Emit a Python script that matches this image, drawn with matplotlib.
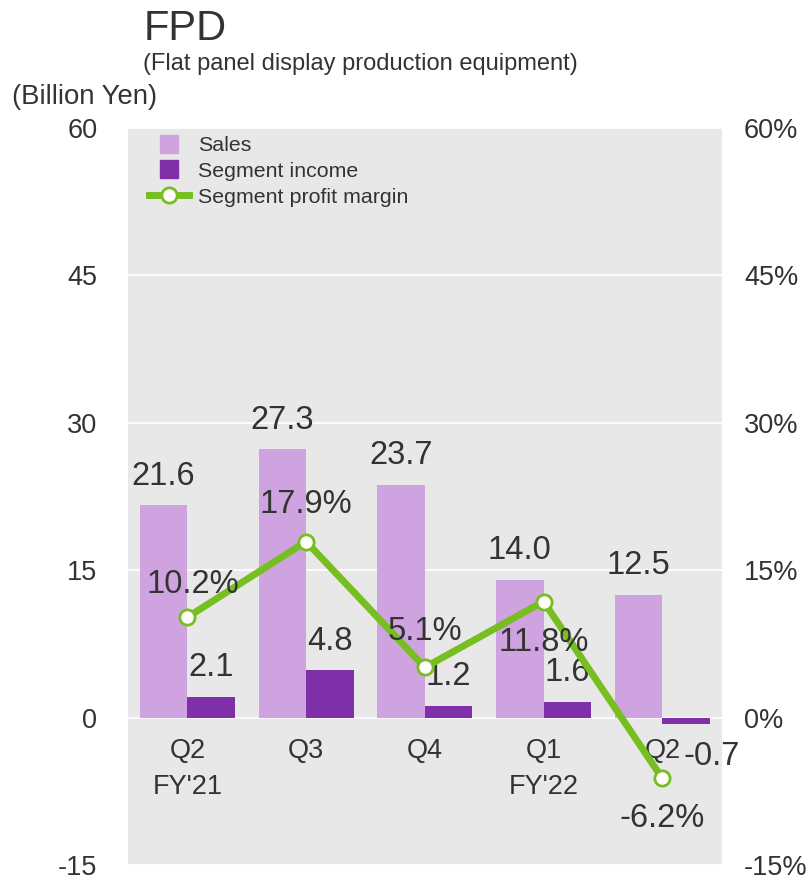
import matplotlib.pyplot as plt
from matplotlib.lines import Line2D
import numpy as np

plt.rcParams['font.family'] = ['Liberation Sans', 'DejaVu Sans']
plt.rcParams['axes.unicode_minus'] = False

quarters = ["Q2\nFY'21", "Q3", "Q4", "Q1\nFY'22", "Q2"]
sales = [21.6, 27.3, 23.7, 14.0, 12.5]
income = [2.1, 4.8, 1.2, 1.6, -0.7]
margin = [10.2, 17.9, 5.1, 11.8, -6.2]

sales_color = "#cfa3e0"
income_color = "#7f30a8"
line_color = "#77be20"
text_color = "#333333"

fig = plt.figure(figsize=(8.1, 8.83), dpi=100)
ax = fig.add_axes([0.158, 0.0204, 0.733, 0.835])
ax.set_facecolor("#e8e8e8")
x = np.arange(len(quarters))
w = 0.4

ax.bar(x - w / 2, sales, w, color=sales_color, zorder=2)
ax.bar(x + w / 2, income, w, color=income_color, zorder=2)
ax.set_xlim(-0.5, 4.5)
ax.set_ylim(-15, 60)
ax.set_yticks([-15, 0, 15, 30, 45, 60])
ax.grid(axis="y", color="white", linewidth=1.2, zorder=1)
ax.set_axisbelow(True)
for s in ax.spines.values():
    s.set_visible(False)
ax.tick_params(axis="y", length=0, pad=22, labelsize=19.5, labelcolor=text_color)
ax.set_xticks([])

# category labels below zero line
for i, q in enumerate(quarters):
    ax.text(i, -2.1, q, ha="center", va="top", fontsize=19.5, color=text_color,
            linespacing=1.5, zorder=5)

for i, v in enumerate(sales):
    ax.text(i - w / 2, v + 2.95, f"{v:.1f}", ha="center", va="center",
            fontsize=23.5, color=text_color)
for i, v in enumerate(income):
    if v >= 0:
        ax.text(i + w / 2, v + 2.95, f"{v:.1f}", ha="center", va="center",
                fontsize=23.5, color=text_color)
    else:
        ax.text(i + w / 2 + 0.216, v - 3.3, f"{v:.1f}", ha="center", va="center",
                fontsize=23.5, color=text_color)

ax2 = ax.twinx()
ax2.set_ylim(-15, 60)
ax2.set_yticks([-15, 0, 15, 30, 45, 60])
ax2.set_yticklabels([f"{t}%" for t in [-15, 0, 15, 30, 45, 60]])
for s in ax2.spines.values():
    s.set_visible(False)
ax2.tick_params(axis="y", length=0, pad=16, labelsize=19.5, labelcolor=text_color)
ax2.plot(x, margin, color=line_color, linewidth=5, marker="o",
         markersize=11, markerfacecolor="white", markeredgecolor=line_color,
         markeredgewidth=2, zorder=3)

offsets = [3.3, 3.8, 3.6, -4.2, -4.1]
dx = [0.05, 0, 0, 0, 0]
for i, (v, o) in enumerate(zip(margin, offsets)):
    ax2.text(i + dx[i], v + o, f"{v:.1f}%", ha="center", va="center", fontsize=23.5,
             color=text_color, zorder=5)

handles = [
    Line2D([], [], marker="s", linestyle="none", markersize=13, color=sales_color),
    Line2D([], [], marker="s", linestyle="none", markersize=13, color=income_color),
    Line2D([], [], color=line_color, linewidth=5, marker="o", markersize=11,
           markerfacecolor="white", markeredgecolor=line_color, markeredgewidth=2),
]
labels = ["Sales", "Segment income", "Segment profit margin"]
ax2.legend(handles, labels, loc="upper left", bbox_to_anchor=(0.013, 1.006),
           frameon=False, fontsize=15.4, handlelength=1.9, handletextpad=0.42,
           labelspacing=0.32, labelcolor=text_color, borderaxespad=0.2)

fig.text(0.177, 0.967, "FPD", fontsize=30, color=text_color, va="center")
fig.text(0.177, 0.927, "(Flat panel display production equipment)", fontsize=17,
         color=text_color, va="center")
fig.text(0.015, 0.890, "(Billion Yen)", fontsize=19.8, color=text_color, va="center")

fig.savefig("out.png", dpi=100)
